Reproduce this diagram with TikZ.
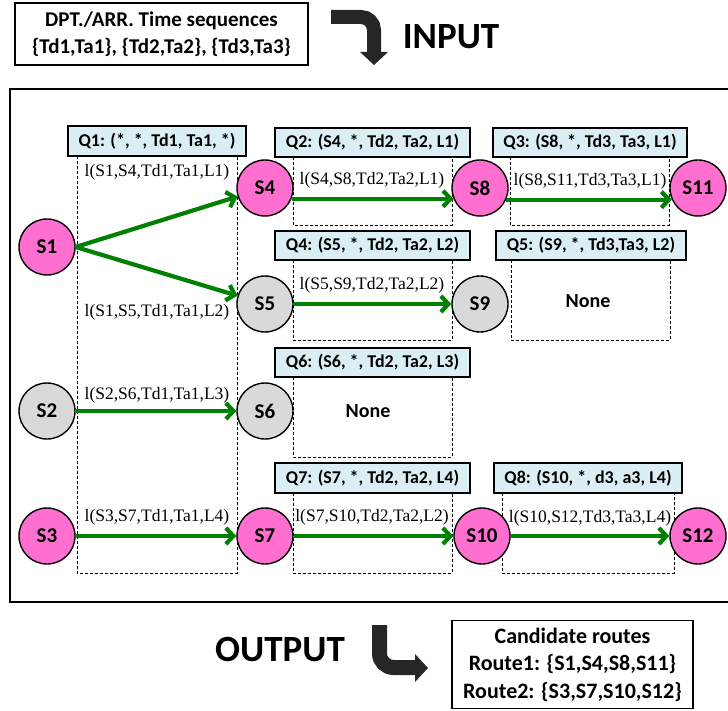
\documentclass[tikz,border=0pt]{standalone}
\usepackage{fontspec}
\setmainfont{Carlito}
\newfontfamily\lblfont{Liberation Serif}
\usetikzlibrary{arrows.meta}
\definecolor{stpink}{HTML}{FF6FCF}
\definecolor{stgray}{HTML}{D9D9D9}
\definecolor{qblue}{HTML}{DAEEF3}
\definecolor{linkgreen}{HTML}{008000}
\definecolor{bigarrow}{HTML}{262626}
\begin{document}
\begin{tikzpicture}[x=1pt,y=-1pt,
  station/.style={circle, draw=black, line width=1.4pt, minimum size=56pt, inner sep=0pt,
    font=\fontsize{21}{23}\selectfont\bfseries},
  active/.style={station, fill=stpink},
  idle/.style={station, fill=stgray},
  qlabel/.style={draw=black, line width=1.3pt, fill=qblue, inner sep=0pt,
    minimum height=29pt, font=\fontsize{18}{20}\selectfont\bfseries},
  qframe/.style={draw=black, line width=0.7pt, dash pattern=on 3pt off 2pt},
  linklabel/.style={inner sep=0pt, font=\lblfont\fontsize{17.5}{19}\selectfont},
  link/.style={draw=linkgreen, line width=4.2pt, -{Straight Barb[length=7.5pt,width=16pt]}},
  none/.style={font=\fontsize{20}{22}\selectfont\bfseries},
  textbox/.style={draw=black, line width=1.4pt, align=center, inner sep=0pt},
  bigword/.style={font=\fontsize{37}{40}\selectfont\bfseries},
  flowarrow/.style={draw=bigarrow, line cap=butt}
]
\useasboundingbox (0,0) rectangle (728,711);

% input / output panels
\node[textbox, minimum width=293pt, minimum height=62pt,
  font=\fontsize{21}{27}\selectfont\bfseries] (seq) at (161.5,34)
  {DPT./ARR. Time sequences\\\{Td1,Ta1\}, \{Td2,Ta2\}, \{Td3,Ta3\}};
\node[bigword] (inword) at (451,37) {INPUT};
\node[bigword] (outword) at (280,649) {OUTPUT};
\node[textbox, minimum width=241pt, minimum height=88pt,
  font=\fontsize{22}{27.5}\selectfont\bfseries] (routes) at (572.5,664.5)
  {Candidate routes\\Route1: \{S1,S4,S8,S11\}\\Route2: \{S3,S7,S10,S12\}};

% bent arrows
\draw[flowarrow, line width=14pt, rounded corners=13pt] (331,17) -- (374,17) -- (374,53);
\fill[bigarrow] (360,52) -- (388,52) -- (374,65) -- cycle;
\draw[flowarrow, line width=15pt, rounded corners=14pt] (379.5,625) -- (379.5,667.5) -- (416,667.5);
\fill[bigarrow] (415,654) -- (428,668) -- (415,682) -- cycle;

% search frame
\draw[line width=2pt] (728,89) -- (10,89) -- (10,602) -- (728,602);

% query windows
\draw[qframe] (77,156) rectangle (237,573);
\draw[qframe] (293,157) rectangle (452,225);
\draw[qframe] (510,157) rectangle (669,225);
\draw[qframe] (293,260) rectangle (452,340);
\draw[qframe] (511,260) rectangle (670,340);
\draw[qframe] (293,377) rectangle (452,457);
\draw[qframe] (293,493) rectangle (452,573);
\draw[qframe] (502,493) rectangle (674,573);

\node[qlabel, minimum width=178pt, minimum height=30pt] (q1) at (157,141) {Q1: (*, *, Td1, Ta1, *)};
\node[qlabel, minimum width=195pt] (q2) at (372.5,142.5) {Q2: (S4, *, Td2, Ta2, L1)};
\node[qlabel, minimum width=194pt] (q3) at (590,142.5) {Q3: (S8, *, Td3, Ta3, L1)};
\node[qlabel, minimum width=195pt] (q4) at (372.5,245.5) {Q4: (S5, *, Td2, Ta2, L2)};
\node[qlabel, minimum width=190pt] (q5) at (591,245.5) {Q5: (S9, *, Td3,Ta3, L2)};
\node[qlabel, minimum width=195pt] (q6) at (372.5,362.5) {Q6: (S6, *, Td2, Ta2, L3)};
\node[qlabel, minimum width=195pt, minimum height=30pt] (q7) at (372.5,478) {Q7: (S7, *, Td2, Ta2, L4)};
\node[qlabel, minimum width=188pt, minimum height=30pt] (q8) at (588,478) {Q8: (S10, *, d3, a3, L4)};

\node[none] (none5) at (588,301) {None};
\node[none] (none6) at (368,411) {None};

% stations
\node[active] (S1) at (47,247) {S1};
\node[idle]   (S2) at (47,411) {S2};
\node[active] (S3) at (47,536) {S3};
\node[active] (S4) at (265,188) {S4};
\node[idle]   (S5) at (265,304) {S5};
\node[idle]   (S6) at (265,411) {S6};
\node[active] (S7) at (265,536) {S7};
\node[active] (S8) at (480,188) {S8};
\node[idle]   (S9) at (480,304) {S9};
\node[active] (S10) at (482,536) {S10};
\node[active] (S11) at (698,188) {S11};
\node[active] (S12) at (698,536) {S12};

% links
\draw[link] (S1.east) -- (S4);
\draw[link] (S1.east) -- (S5);
\draw[link] (S4.-22) -- (S8.202);
\draw[link] (S8.-24) -- (S11.204);
\draw[link] (S5) -- (S9);
\draw[link] (S2) -- (S6);
\draw[link] (S3) -- (S7);
\draw[link] (S7) -- (S10);
\draw[link] (S10) -- (S12);

% link labels
\node[linklabel] (l14) at (157,172) {l(S1,S4,Td1,Ta1,L1)};
\node[linklabel] (l15) at (157,312) {l(S1,S5,Td1,Ta1,L2)};
\node[linklabel] (l48) at (372,180) {l(S4,S8,Td2,Ta2,L1)};
\node[linklabel] (l811) at (590,181) {l(S8,S11,Td3,Ta3,L1)};
\node[linklabel] (l59) at (372,285) {l(S5,S9,Td2,Ta2,L2)};
\node[linklabel] (l26) at (157,395) {l(S2,S6,Td1,Ta1,L3)};
\node[linklabel] (l37) at (157,517) {l(S3,S7,Td1,Ta1,L4)};
\node[linklabel] (l710) at (372,517) {l(S7,S10,Td2,Ta2,L2)};
\node[linklabel] (l1012) at (590,518) {l(S10,S12,Td3,Ta3,L4)};
\end{tikzpicture}
\end{document}
